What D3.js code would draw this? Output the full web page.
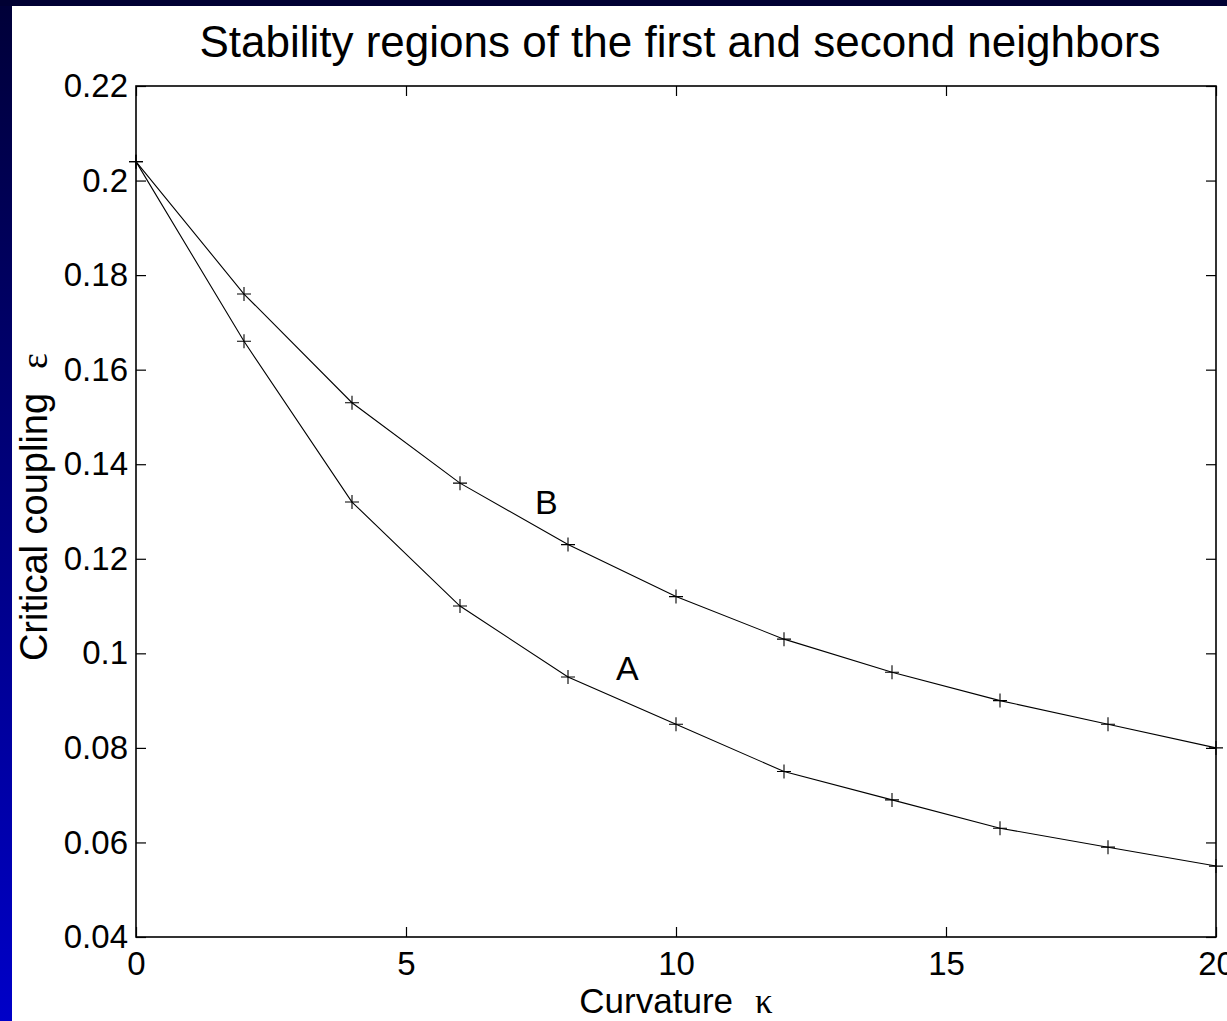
<!DOCTYPE html>
<html lang="en">
<head>
<meta charset="UTF-8">
<title>Stability regions</title>
<style>
  body { margin: 0; background: #fff; }
  svg text { font-family: "Liberation Sans", Arial, sans-serif; fill: #000; }
</style>
</head>
<body>
<script src="https://d3js.org/d3.v7.min.js"></script>
<script>
// curvature values and critical coupling for the two curves
var kappa = [0, 2, 4, 6, 8, 10, 12, 14, 16, 18, 20]
var epsA = [0.204, 0.166, 0.132, 0.110, 0.095, 0.085, 0.075, 0.069, 0.063, 0.059, 0.055]
var epsB = [0.204, 0.176, 0.153, 0.136, 0.123, 0.112, 0.103, 0.096, 0.090, 0.085, 0.080]

var xTicks = [0, 5, 10, 15, 20]
var xTickLabels = ['0', '5', '10', '15', '20']
var yTicks = [0.04, 0.06, 0.08, 0.1, 0.12, 0.14, 0.16, 0.18, 0.2, 0.22]
var yTickLabels = ['0.04', '0.06', '0.08', '0.1', '0.12', '0.14', '0.16', '0.18', '0.2', '0.22']

// curve labels placed in data coordinates
var curveLabels = [{ name: 'B', k: 7.6, e: 0.132 }, { name: 'A', k: 9.1, e: 0.097 }]

var W = 1227, H = 1021
var margin = { left: 136, top: 86, right: 11, bottom: 84 }

var svg = d3.select('body').append('svg')
  .attr('width', W)
  .attr('height', H)

// slide background: dark band on top, blue gradient strip on the left
var defs = svg.append('defs')
var grad = defs.append('linearGradient').attr('id', 'side')
  .attr('x1', 0).attr('y1', 0).attr('x2', 0).attr('y2', 1)
grad.append('stop').attr('offset', '0%').attr('stop-color', '#000038')
grad.append('stop').attr('offset', '100%').attr('stop-color', '#0000c8')

svg.append('rect').attr('width', W).attr('height', H).attr('fill', 'url(#side)')
svg.append('rect').attr('width', W).attr('height', 6).attr('fill', '#000033')
svg.append('rect').attr('x', 12).attr('y', 6).attr('width', W - 12).attr('height', H - 6).attr('fill', '#fff')

var x = d3.scaleLinear().domain([0, 20]).range([margin.left, W - margin.right])
var y = d3.scaleLinear().domain([0.04, 0.22]).range([H - margin.bottom, margin.top])

var fmtX = function (d, i) { return xTickLabels[i] }
var fmtY = function (d, i) { return yTickLabels[i] }

var gx = svg.append('g').attr('transform', 'translate(0,' + y.range()[0] + ')')
  .call(d3.axisBottom(x).tickValues(xTicks).tickFormat(fmtX).tickSizeInner(-10).tickSizeOuter(0).tickPadding(15))
var gy = svg.append('g').attr('transform', 'translate(' + x.range()[0] + ',0)')
  .call(d3.axisLeft(y).tickValues(yTicks).tickFormat(fmtY).tickSizeInner(-10).tickSizeOuter(0).tickPadding(8))
var gxt = svg.append('g').attr('transform', 'translate(0,' + y.range()[1] + ')')
  .call(d3.axisTop(x).tickValues(xTicks).tickFormat('').tickSizeInner(-10).tickSizeOuter(0))
var gyr = svg.append('g').attr('transform', 'translate(' + x.range()[1] + ',0)')
  .call(d3.axisRight(y).tickValues(yTicks).tickFormat('').tickSizeInner(-10).tickSizeOuter(0))

;[gx, gy, gxt, gyr].forEach(function (g) {
  g.select('.domain').remove()
  g.selectAll('line').attr('stroke', '#000').attr('stroke-width', 1.2)
  g.selectAll('text').attr('font-size', 33).attr('font-family', '"Liberation Sans", Arial, sans-serif').attr('fill', '#000')
})

// frame
svg.append('rect')
  .attr('x', x.range()[0]).attr('y', y.range()[1])
  .attr('width', x.range()[1] - x.range()[0])
  .attr('height', y.range()[0] - y.range()[1])
  .attr('fill', 'none').attr('stroke', '#000').attr('stroke-width', 1.6)

var line = d3.line().x(function (d) { return x(d[0]) }).y(function (d) { return y(d[1]) })

;[epsA, epsB].forEach(function (vals) {
  var pts = kappa.map(function (k, i) { return [k, vals[i]] })
  svg.append('path').datum(pts)
    .attr('d', line)
    .attr('fill', 'none').attr('stroke', '#000').attr('stroke-width', 1.1)
  svg.append('g').selectAll('path').data(pts).enter().append('path')
    .attr('transform', function (d) { return 'translate(' + x(d[0]) + ',' + y(d[1]) + ')' })
    .attr('d', 'M-7,0H7M0,-7V7')
    .attr('stroke', '#000').attr('stroke-width', 1.1)
})

svg.selectAll('.clabel').data(curveLabels).enter().append('text')
  .attr('class', 'clabel')
  .attr('x', function (d) { return x(d.k) })
  .attr('y', function (d) { return y(d.e) })
  .attr('text-anchor', 'middle')
  .attr('dominant-baseline', 'central')
  .attr('font-size', 34)
  .text(function (d) { return d.name })

// title and axis labels
svg.append('text')
  .attr('x', 680)
  .attr('y', 57)
  .attr('text-anchor', 'middle')
  .attr('font-size', 44)
  .text('Stability regions of the first and second neighbors')

var xl = svg.append('text')
  .attr('x', 676)
  .attr('y', 1013)
  .attr('text-anchor', 'middle')
  .attr('font-size', 35)
xl.append('tspan').text('Curvature')
xl.append('tspan').attr('dx', 22).attr('font-family', '"Liberation Serif", "DejaVu Serif", serif').text('κ')

var yl = svg.append('text')
  .attr('transform', 'translate(47,' + 507 + ') rotate(-90)')
  .attr('text-anchor', 'middle')
  .attr('font-size', 38)
yl.append('tspan').text('Critical coupling')
yl.append('tspan').attr('dx', 24).attr('font-family', '"Liberation Serif", "DejaVu Serif", serif').text('ε')
</script>
</body>
</html>
